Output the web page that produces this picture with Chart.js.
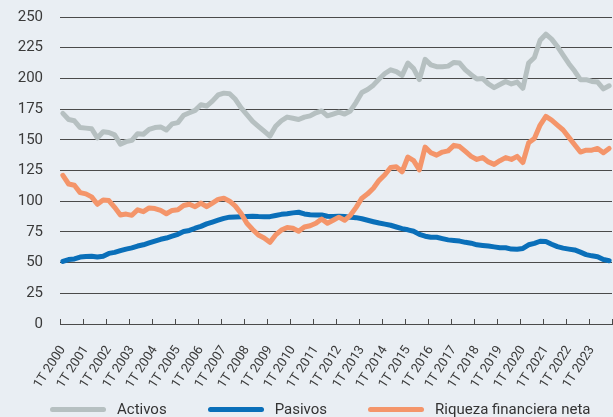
<!DOCTYPE html>
<html>
<head>
<meta charset="utf-8">
<script src="https://cdn.jsdelivr.net/npm/chart.js@4.4.1/dist/chart.umd.min.js"></script>
<style>
  html, body { margin: 0; padding: 0; background: #e9eef3; }
  #wrap { position: relative; width: 613px; height: 417px; overflow: hidden; }
  #legend {
    position: absolute; left: 50px; top: 400px; height: 18px;
    display: flex; align-items: center; white-space: nowrap;
    font: 15px Roboto, sans-serif; color: #333;
  }
  #legend .item { display: flex; align-items: center; margin-right: 41px; }
  #legend .swatch { display: inline-block; width: 56px; height: 5px; border-radius: 3px; margin-right: 11px; }
</style>
</head>
<body>
<div id="wrap">
  <canvas id="chart" width="613" height="417"></canvas>
  <div id="legend"></div>
</div>
<script>
// Quarterly categories, 1T 2000 – 4T 2023
const years = [2000, 2001, 2002, 2003, 2004, 2005, 2006, 2007, 2008, 2009, 2010, 2011,
               2012, 2013, 2014, 2015, 2016, 2017, 2018, 2019, 2020, 2021, 2022, 2023];
const quarters = ['1T', '2T', '3T', '4T'];
const categories = [];
years.forEach(y => quarters.forEach(q => categories.push(q + ' ' + y)));

// Y axis ticks
const yTicks = [0, 25, 50, 75, 100, 125, 150, 175, 200, 225, 250];

// Series (%)
const activos = [
  171.5, 166.5, 165.5, 160, 159.5, 159, 151.5, 156.5, 156, 154, 146.5, 148.5,
  149.5, 155, 154.5, 158.5, 160, 160.5, 158, 163, 164, 170, 172, 174,
  178.5, 177.5, 181.5, 186.5, 188, 187.5, 183, 176, 170.5, 165, 161, 157,
  153, 161, 165.5, 168.5, 167.5, 166.5, 168.5, 169.5, 172, 173.5, 169.5, 171,
  172.5, 171, 173.5, 180.5, 188.5, 191, 194.5, 199.5, 204, 207, 205.5, 202.5,
  212.5, 208, 199, 215.5, 211, 209.5, 209.5, 210, 213, 212.5, 207, 203,
  199.5, 200, 195.5, 192.5, 195, 197.5, 195.5, 197, 192, 212.5, 217, 231,
  236, 232, 226, 219, 212, 206, 199, 199, 197.5, 197, 191.5, 194
];
const pasivos = [
  51, 52.5, 53, 54.5, 55, 55.2, 54.5, 55.2, 57.5, 58.3, 59.7, 61,
  62, 63.5, 64.5, 66, 67.5, 69, 70, 71.5, 73, 75.3, 76.2, 78,
  79.5, 81.5, 83, 84.5, 86, 87, 87.2, 87.4, 87.6, 87.8, 87.5, 87.4,
  87.4, 88.4, 89.3, 89.8, 90.5, 91, 89.6, 89, 88.8, 88.8, 87.8, 87.6,
  87.8, 87.5, 87, 86.6, 85.7, 84.5, 83.3, 82.2, 81.3, 80.4, 79, 77.7,
  76.7, 75.5, 73, 71.5, 70.6, 70.6, 69.5, 68.5, 68, 67.5, 66.5, 65.8,
  64.5, 64, 63.5, 62.8, 62.1, 62.1, 61, 60.8, 61.5, 64.5, 65.7, 67.4,
  67.2, 65, 63, 61.8, 61, 60.3, 58.5, 56.5, 55.5, 54.8, 52.5, 51.5
];
const riqueza = [
  121, 114, 113, 107, 106, 103.5, 97.5, 101, 100.5, 95, 88.8, 89.5,
  88.5, 93, 91.5, 94.5, 94, 92.5, 89.8, 92.5, 93, 96.5, 97.5, 95.5,
  98.5, 95.5, 98.5, 101.5, 102.5, 100, 96, 90, 82, 77, 72.5, 70,
  66.5, 72.5, 76.5, 78.5, 78, 75.5, 79, 80, 82, 85.5, 82, 84.5,
  87, 84.5, 88.5, 95, 102.5, 106, 110.5, 117, 121.5, 127.5, 128, 124,
  136, 133, 125.5, 144, 139.5, 137.5, 140, 141, 145.5, 144.5, 140.5, 136.5,
  134, 135.5, 132, 130, 133, 135.5, 134, 136.5, 131.5, 147.5, 151, 162,
  169, 166, 162, 158, 152, 146, 140, 141.5, 141.5, 143, 139.5, 143
];

const seriesNames = ['Activos', 'Pasivos', 'Riqueza financiera neta'];
const seriesColors = ['#b6c0c1', '#0a6fb9', '#f4956a'];

const textColor = '#3a3a3a';
const gridColor = '#4a4a4a';

const chart = new Chart(document.getElementById('chart'), {
  type: 'line',
  data: {
    labels: categories,
    datasets: [
      { label: seriesNames[0], data: activos, borderColor: seriesColors[0], backgroundColor: seriesColors[0], order: 2 },
      { label: seriesNames[1], data: pasivos, borderColor: seriesColors[1], backgroundColor: seriesColors[1], order: 1 },
      { label: seriesNames[2], data: riqueza, borderColor: seriesColors[2], backgroundColor: seriesColors[2], order: 0 }
    ]
  },
  options: {
    responsive: false,
    animation: false,
    devicePixelRatio: 1,
    layout: { padding: { top: 17, right: 1, left: 0, bottom: 0 } },
    elements: {
      point: { radius: 0, hoverRadius: 0 },
      line: { borderWidth: 5, tension: 0, borderCapStyle: 'round', borderJoinStyle: 'round', fill: false }
    },
    plugins: { legend: { display: false }, tooltip: { enabled: false } },
    scales: {
      x: {
        type: 'category',
        offset: true,
        grid: {
          offset: true,
          drawOnChartArea: false,
          drawTicks: true,
          tickLength: -5,
          lineWidth: 1,
          color: ctx => (ctx.index === undefined || ctx.index % 4 === 0) ? gridColor : 'rgba(0,0,0,0)'
        },
        border: { display: true, color: gridColor, width: 1 },
        ticks: {
          autoSkip: false,
          maxRotation: 57,
          minRotation: 57,
          padding: 24,
          color: textColor,
          font: { family: 'Roboto', size: 13 },
          callback: (value, index) => index % 4 === 0 ? categories[index] : ''
        },
        afterFit: scale => {
          scale.height = 93;
          scale.paddingLeft = 0; scale.paddingRight = 0;
          scale.paddingTop = 0; scale.paddingBottom = 0;
        }
      },
      y: {
        min: yTicks[0],
        max: yTicks[yTicks.length - 1],
        afterBuildTicks: scale => { scale.ticks = yTicks.map(v => ({ value: v })); },
        ticks: { padding: 17, color: textColor, font: { family: 'Roboto', size: 15 } },
        grid: { color: gridColor, lineWidth: 1, drawTicks: false },
        border: { display: false },
        afterFit: scale => {
          scale.width = 60;
          scale.paddingTop = 0; scale.paddingBottom = 0;
          scale.paddingLeft = 0; scale.paddingRight = 0;
        }
      }
    }
  }
});

// Legend built from the chart's datasets
const legendEl = document.getElementById('legend');
chart.data.datasets.forEach(ds => {
  const item = document.createElement('span');
  item.className = 'item';
  const sw = document.createElement('span');
  sw.className = 'swatch';
  sw.style.background = ds.borderColor;
  const txt = document.createElement('span');
  txt.textContent = ds.label;
  item.appendChild(sw);
  item.appendChild(txt);
  legendEl.appendChild(item);
});
</script>
</body>
</html>
